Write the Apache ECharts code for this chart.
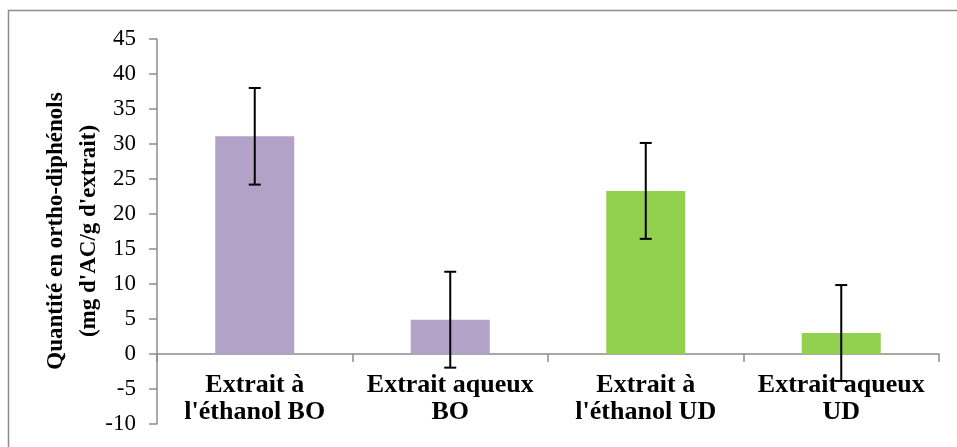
<!DOCTYPE html>
<html>
<head>
<meta charset="utf-8">
<script src="https://cdn.jsdelivr.net/npm/echarts@6/dist/echarts.min.js"></script>
<style>
  html, body { margin: 0; padding: 0; background: #fff; }
  #chart { width: 957px; height: 447px; }
</style>
</head>
<body>
<div id="chart"></div>
<script>
// Ortho-diphenol content per extract (mg AC / g extract), mean ± SD
const categories = [
  "Extrait à\nl'éthanol BO",
  "Extrait aqueux\nBO",
  "Extrait à\nl'éthanol UD",
  "Extrait aqueux\nUD"
];
const values = [31.1, 4.9, 23.3, 3.0];
const errors = [6.9, 6.85, 6.85, 6.85];
const yTicks = { min: -10, max: 45, step: 5 };

const PURPLE = '#B3A2C7';
const GREEN = '#92D050';
const AXIS_GREY = '#8C8C8C';
const SERIF = '"Liberation Serif", "Times New Roman", serif';

const GRID_TOP = 39, GRID_BOTTOM = 23;
const chartHeight = 447;
const plotHeight = chartHeight - GRID_TOP - GRID_BOTTOM;
// the category axis sits on the zero line, so lift it from the bottom edge
const zeroOffset = -plotHeight * (0 - yTicks.min) / (yTicks.max - yTicks.min);

const chart = echarts.init(document.getElementById('chart'), null, { renderer: 'canvas' });

const barData = values.map((v, i) => ({
  value: v,
  itemStyle: { color: categories[i].endsWith('BO') ? PURPLE : GREEN }
}));
const errData = values.map((v, i) => [i, v - errors[i], v + errors[i]]);

chart.setOption({
  animation: false,
  backgroundColor: '#fff',
  grid: { left: 157, right: 18, top: GRID_TOP, bottom: GRID_BOTTOM, containLabel: false, outerBoundsMode: 'none' },
  graphic: [
    {
      type: 'rect',
      shape: { x: 8.5, y: 10.5, width: 970, height: 460 },
      style: { fill: 'none', stroke: AXIS_GREY, lineWidth: 1.5 },
      silent: true
    },
    {
      type: 'text',
      x: 73, y: 231,
      rotation: Math.PI / 2,
      style: {
        text: "Quantité en ortho-diphénols\n(mg d'AC/g d'extrait)",
        fontFamily: SERIF,
        fontWeight: 'bold',
        fontSize: 23,
        fill: '#000',
        align: 'center',
        verticalAlign: 'middle',
        lineHeight: 33
      },
      silent: true
    }
  ],
  xAxis: {
    type: 'category',
    data: categories,
    offset: zeroOffset,
    axisLine: { onZero: false, lineStyle: { color: AXIS_GREY, width: 1.5 } },
    axisTick: { show: true, alignWithLabel: false, length: 8, lineStyle: { color: AXIS_GREY, width: 1.5 } },
    axisLabel: {
      interval: 0,
      margin: 18,
      color: '#000',
      fontFamily: SERIF,
      fontWeight: 'bold',
      fontSize: 26,
      lineHeight: 27
    },
    splitLine: { show: false }
  },
  yAxis: {
    type: 'value',
    min: yTicks.min,
    max: yTicks.max,
    interval: yTicks.step,
    axisLine: { show: true, lineStyle: { color: AXIS_GREY, width: 1.5 } },
    axisTick: { show: true, length: 8, lineStyle: { color: AXIS_GREY, width: 1.5 } },
    axisLabel: {
      margin: 21,
      color: '#000',
      fontFamily: SERIF,
      fontSize: 23
    },
    splitLine: { show: false }
  },
  series: [
    {
      type: 'bar',
      data: barData,
      barWidth: 79
    },
    {
      type: 'custom',
      data: errData,
      z: 10,
      renderItem: function (params, api) {
        const x = api.value(0);
        const lo = api.coord([x, api.value(1)]);
        const hi = api.coord([x, api.value(2)]);
        const half = 6;
        const st = { stroke: '#000', lineWidth: 2 };
        return {
          type: 'group',
          children: [
            { type: 'line', shape: { x1: hi[0], y1: hi[1], x2: lo[0], y2: lo[1] }, style: st },
            { type: 'line', shape: { x1: hi[0] - half, y1: hi[1], x2: hi[0] + half, y2: hi[1] }, style: st },
            { type: 'line', shape: { x1: lo[0] - half, y1: lo[1], x2: lo[0] + half, y2: lo[1] }, style: st }
          ]
        };
      }
    }
  ]
});
</script>
</body>
</html>
